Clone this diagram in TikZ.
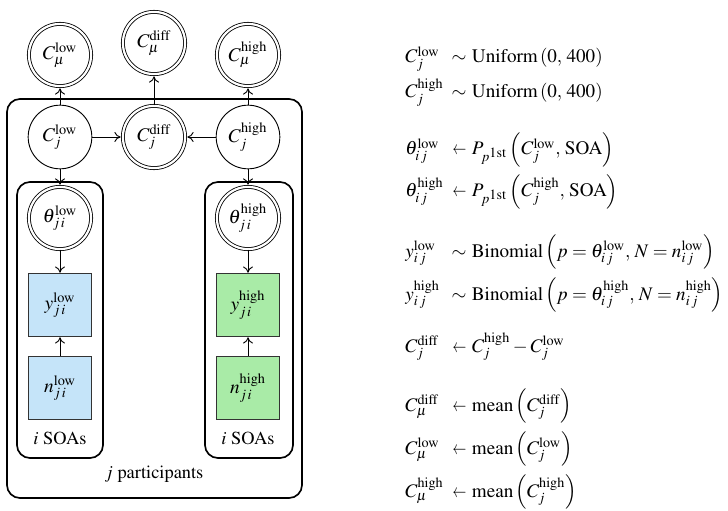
\documentclass[tikz,border=0pt]{standalone}
\usepackage[T1]{fontenc}
\usepackage{mathptmx}
\usepackage{amsmath}
\usetikzlibrary{arrows.meta}
\definecolor{boxblue}{HTML}{C5E4F9}
\definecolor{boxgreen}{HTML}{A9EBA7}
\newcommand\eqrow[3]{\makebox[24pt][l]{$#1$}\makebox[9.2pt][r]{$#2$}\hspace{3pt}$#3$}
\newcommand\sla{\mathrel{\scalebox{0.72}[1]{$\leftarrow$}}}
\begin{document}
\begin{tikzpicture}[x=0.5435pt,y=-0.5435pt,
  latent/.style={circle,draw,line width=0.5pt,minimum size=34.6pt,inner sep=0pt,font=\fontsize{10.5}{12}\selectfont},
  derived/.style={circle,draw,line width=0.45pt,double,double distance=1.2pt,minimum size=33.8pt,inner sep=0pt,font=\fontsize{10.5}{12}\selectfont},
  obsbox/.style={rectangle,draw=black!80,line width=0.5pt,minimum size=34.6pt,inner sep=0pt,font=\fontsize{10.5}{12}\selectfont},
  plate/.style={draw,line width=0.9pt,rounded corners=7pt},
  arr/.style={-{To[length=3.4pt,width=5.4pt]},line width=0.5pt},
  arrd/.style={arr,shorten >=1.0pt},
  eq/.style={anchor=base west,inner sep=0pt,font=\fontsize{10.4}{12}\selectfont}]
\useasboundingbox (0,0) rectangle (728,511);
% plates
\draw[plate] (7,99) rectangle (302,498);
\draw[plate] (17,182) rectangle (103,458);
\draw[plate] (205,182) rectangle (293,458);
% top level
\node[derived] (cml) at (60,55) {$C_{\mu}^{\mathrm{low}}$};
\node[derived] (cmd) at (154,43) {$C_{\mu}^{\mathrm{diff}}$};
\node[derived] (cmh) at (248,55) {$C_{\mu}^{\mathrm{high}}$};
% participant level
\node[latent] (cjl) at (60,137) {$C_{j}^{\mathrm{low}}$};
\node[derived] (cjd) at (154,137) {$C_{j}^{\mathrm{diff}}$};
\node[latent] (cjh) at (248,137) {$C_{j}^{\mathrm{high}}$};
% SOA level
\node[derived] (thl) at (60,218) {$\theta_{j\,i}^{\mathrm{low}}$};
\node[derived] (thh) at (248,218) {$\theta_{j\,i}^{\mathrm{high}}$};
\node[obsbox,fill=boxblue] (yl) at (60,305) {$y_{j\,i}^{\mathrm{low}}$};
\node[obsbox,fill=boxblue] (nl) at (60,388) {$n_{j\,i}^{\mathrm{low}}$};
\node[obsbox,fill=boxgreen] (yh) at (248,305) {$y_{j\,i}^{\mathrm{high}}$};
\node[obsbox,fill=boxgreen] (nh) at (248,388) {$n_{j\,i}^{\mathrm{high}}$};
\node (sl) at (60,438) {$i$ SOAs};
\node (sh) at (248,438) {$i$ SOAs};
\node (pj) at (154,474) {$j$ participants};
% arrows
\draw[arrd] (cjl) -- (cml);
\draw[arrd] (cjd) -- (cmd);
\draw[arrd] (cjh) -- (cmh);
\draw[arrd] (cjl) -- (cjd);
\draw[arrd] (cjh) -- (cjd);
\draw[arrd] (cjl) -- (thl);
\draw[arrd] (cjh) -- (thh);
\draw[arr] (thl) -- (yl);
\draw[arr] (thh) -- (yh);
\draw[arr] (nl) -- (yl);
\draw[arr] (nh) -- (yh);
% equations
\node[eq] (e1) at (405,63) {\eqrow{C_j^{\mathrm{low}}}{\sim}{\mathrm{Uniform}\left(0,\,400\right)}};
\node[eq] (e2) at (405,98) {\eqrow{C_j^{\mathrm{high}}}{\sim}{\mathrm{Uniform}\left(0,\,400\right)}};
\node[eq] (e3) at (405,155) {\eqrow{\theta_{i\,j}^{\mathrm{low}}}{\sla}{P_{p^{\scriptstyle\mathrm{1st}}}\left(C_j^{\mathrm{low}},\,\mathrm{SOA}\right)}};
\node[eq] (e4) at (405,197) {\eqrow{\theta_{i\,j}^{\mathrm{high}}}{\sla}{P_{p^{\scriptstyle\mathrm{1st}}}\left(C_j^{\mathrm{high}},\,\mathrm{SOA}\right)}};
\node[eq] (e5) at (405,257) {\eqrow{y_{i\,j}^{\mathrm{low}}}{\sim}{\mathrm{Binomial}\left(p=\theta_{i\,j}^{\mathrm{low}},\,N=n_{i\,j}^{\mathrm{low}}\right)}};
\node[eq] (e6) at (405,300) {\eqrow{y_{i\,j}^{\mathrm{high}}}{\sim}{\mathrm{Binomial}\left(p=\theta_{i\,j}^{\mathrm{high}},\,N=n_{i\,j}^{\mathrm{high}}\right)}};
\node[eq] (e7) at (405,352) {\eqrow{C_j^{\mathrm{diff}}}{\sla}{C_j^{\mathrm{high}}-C_j^{\mathrm{low}}}};
\node[eq] (e8) at (405,411) {\eqrow{C_\mu^{\mathrm{diff}}}{\sla}{\mathrm{mean}\left(C_j^{\mathrm{diff}}\right)}};
\node[eq] (e9) at (405,454) {\eqrow{C_\mu^{\mathrm{low}}}{\sla}{\mathrm{mean}\left(C_j^{\mathrm{low}}\right)}};
\node[eq] (e10) at (405,497) {\eqrow{C_\mu^{\mathrm{high}}}{\sla}{\mathrm{mean}\left(C_j^{\mathrm{high}}\right)}};
\end{tikzpicture}
\end{document}
